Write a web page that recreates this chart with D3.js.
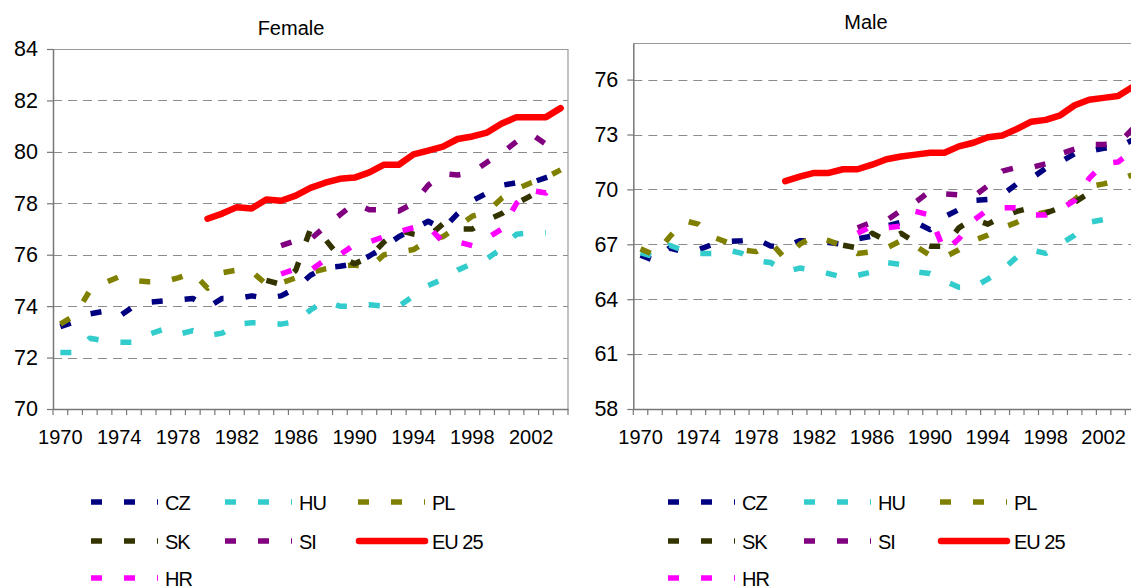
<!DOCTYPE html>
<html><head><meta charset="utf-8">
<script src="https://cdn.jsdelivr.net/npm/d3@7"></script>
<style>
html,body{margin:0;padding:0;background:#fff;}
svg{display:block;font-family:"Liberation Sans",Arial,sans-serif;}
</style></head>
<body>
<svg id="chart" width="1131" height="587"></svg>
<script>
const years = d3.range(1970, 2005);
const yearLabels = ["1970","1974","1978","1982","1986","1990","1994","1998","2002"];
const seriesNames = ["CZ","HU","PL","SK","SI","EU 25","HR"];
const seriesColors = ["#000080","#33CCCC","#808000","#333300","#800080","#FF0000","#FF00FF"];
const femaleTicks = [70,72,74,76,78,80,82,84];
const maleTicks = [58,61,64,67,70,73,76];
const _ = null;

// Female life expectancy (1970..2004)
const czF = [73.2,73.4,73.7,73.8,73.6,74.0,74.15,74.2,74.25,74.3,73.95,74.3,74.3,74.4,74.3,74.4,74.7,75.2,75.5,75.55,75.65,75.95,76.3,76.7,77.0,77.3,77.0,77.6,78.1,78.4,78.7,78.8,78.8,79.0,79.2];
const huF = [72.2,72.2,72.75,72.65,72.6,72.6,72.9,73.1,72.9,73.05,72.85,72.95,73.3,73.35,73.35,73.3,73.4,73.85,74.2,74.0,74.0,74.05,74.0,74.0,74.4,74.8,75.05,75.4,75.65,75.85,76.25,76.8,76.85,76.85,_];
const plF = [73.3,73.65,74.6,74.9,75.15,75.0,74.95,74.95,75.1,75.3,74.7,75.3,75.4,75.35,74.85,74.9,75.1,75.3,75.45,75.55,75.6,75.5,76.0,76.1,76.2,76.55,76.7,77.1,77.5,77.65,78.2,78.55,78.8,79.0,79.3];
const skF = [_,_,_,_,_,_,_,_,_,_,_,_,_,_,75.0,74.85,75.4,77.0,76.6,75.9,75.65,75.9,76.5,76.95,76.8,76.7,77.2,77.0,77.0,77.35,77.6,78.0,78.3,_,_];
const siF = [_,_,_,_,_,_,_,_,_,_,_,_,_,_,_,76.35,76.55,76.6,77.1,77.55,78.0,77.75,77.75,77.7,78.0,78.7,79.15,79.1,79.2,79.6,79.95,80.4,80.7,80.3,_];
const euF = [_,_,_,_,_,_,_,_,_,_,77.4,77.6,77.85,77.8,78.15,78.1,78.3,78.6,78.8,78.95,79.0,79.2,79.5,79.5,79.9,80.05,80.2,80.5,80.6,80.75,81.1,81.35,81.35,81.35,81.7];
const hrF = [_,_,_,_,_,_,_,_,_,_,_,_,_,_,_,75.25,75.45,75.4,75.8,76.0,76.4,76.5,76.7,76.9,77.05,77.1,76.5,76.5,76.35,76.65,77.0,78.0,78.5,78.4,79.0];

// Male life expectancy (1970..2004)
const czM = [66.4,66.1,66.8,66.6,66.7,67.0,67.15,67.2,67.3,66.9,66.85,67.2,67.2,67.1,67.0,67.3,67.45,68.0,68.2,68.2,67.8,68.5,68.9,69.4,69.45,69.7,70.3,70.6,71.15,71.5,71.95,72.1,72.25,72.3,72.7];
const huM = [66.55,66.3,66.95,66.65,66.5,66.5,66.7,66.5,66.1,66.0,65.5,65.7,65.6,65.4,65.2,65.3,65.5,66.0,65.9,65.5,65.4,65.0,64.65,64.65,65.1,65.6,66.3,66.7,66.5,67.0,67.5,68.2,68.35,68.4,_];
const plM = [66.75,66.4,67.4,68.3,68.1,67.4,67.1,66.7,66.6,67.1,66.2,67.0,67.45,67.2,66.9,66.5,66.6,66.8,67.2,66.9,66.4,66.3,66.7,67.2,67.5,67.9,68.2,68.6,68.75,68.95,69.45,70.15,70.3,70.5,70.8];
const skM = [_,_,_,_,_,_,_,_,_,_,_,_,_,_,66.95,66.8,67.6,67.2,67.6,67.1,66.9,66.9,67.9,68.4,68.1,68.5,68.8,69.0,68.7,69.0,69.3,69.8,_,_,_];
const siM = [_,_,_,_,_,_,_,_,_,_,_,_,_,_,_,67.9,68.2,68.3,68.85,69.3,69.9,69.75,69.7,69.6,70.2,71.0,71.2,71.2,71.4,71.95,72.2,72.45,72.45,72.5,73.3];
const euM = [_,_,_,_,_,_,_,_,_,_,70.45,70.7,70.9,70.9,71.1,71.1,71.35,71.65,71.8,71.9,72.0,72.0,72.35,72.55,72.85,72.95,73.3,73.7,73.8,74.05,74.6,74.9,75.0,75.1,75.6];
const hrM = [_,_,_,_,_,_,_,_,_,_,_,_,_,_,_,67.6,68.0,67.9,68.0,68.8,68.6,66.6,67.3,68.3,68.9,69.0,69.0,68.6,68.6,68.9,69.4,70.6,71.4,71.5,72.1];

const panels = [
  {title:"Female", series:[czF,huF,plF,skF,siF,euF,hrF], x0:53, x1:568, y0:49, y1:409,
   domain:[70,84], ticks:femaleTicks, titleX:291, titleY:35,
   legend:{x:[91,225,358], y:[502,541,578]}},
  {title:"Male", series:[czM,huM,plM,skM,siM,euM,hrM], x0:633.3, x1:1139.8, y0:43, y1:409,
   domain:[58,78], ticks:maleTicks, titleX:866, titleY:29,
   legend:{x:[668,804,940], y:[502,541,578]}}
];

const svg = d3.select("#chart");

panels.forEach(p => {
  const g = svg.append("g");
  const x = d3.scaleBand().domain(years.map(String)).range([p.x0, p.x1]).paddingInner(0).paddingOuter(0);
  const y = d3.scaleLinear().domain(p.domain).range([p.y1, p.y0]);

  g.selectAll("line.grid").data(p.ticks.filter(t => t > p.domain[0]))
    .enter().append("line")
    .attr("x1", p.x0).attr("x2", p.x1)
    .attr("y1", d => Math.round(y(d)) + 0.5).attr("y2", d => Math.round(y(d)) + 0.5)
    .attr("stroke", "#8c8c8c").attr("stroke-width", 1).attr("stroke-dasharray", "9,6");

  g.append("path")
    .attr("d", `M${p.x0},${p.y0 + 0.5}H${p.x1}V${p.y1}`)
    .attr("fill", "none").attr("stroke", "#999").attr("stroke-width", 1.2);

  const yAxis = d3.axisLeft(y).tickValues(p.ticks).tickSize(6).tickSizeOuter(0).tickFormat(d3.format("d"));
  const ya = g.append("g").attr("transform", `translate(${p.x0},0)`).call(yAxis);
  ya.select(".domain").attr("stroke", "#777").attr("stroke-width", 1.5);
  ya.selectAll(".tick line").attr("stroke", "#777").attr("stroke-width", 1.2);
  ya.selectAll(".tick text").attr("font-size", "21.5px").attr("fill", "#000").attr("x", -15)
    .attr("font-family", "Liberation Sans, Arial, sans-serif");

  const xAxis = d3.axisBottom(x).tickValues(yearLabels).tickSize(0).tickSizeOuter(0);
  const xa = g.append("g").attr("transform", `translate(0,${p.y1})`).call(xAxis);
  xa.select(".domain").attr("stroke", "#777").attr("stroke-width", 1.5);
  xa.selectAll(".tick text").attr("font-size", "20px").attr("fill", "#000").attr("y", 21)
    .attr("font-family", "Liberation Sans, Arial, sans-serif");
  const bounds = years.map(d => x(String(d))).concat([x(String(years[years.length - 1])) + x.bandwidth()]);
  g.selectAll("line.xtick").data(bounds).enter().append("line")
    .attr("x1", d => d).attr("x2", d => d)
    .attr("y1", p.y1).attr("y2", p.y1 + 6)
    .attr("stroke", "#777").attr("stroke-width", 1.2);

  const line = d3.line()
    .defined(d => d.v != null)
    .x(d => x(String(d.year)) + x.bandwidth() / 2)
    .y(d => y(d.v));
  p.series.forEach((vals, i) => {
    const data = years.map((yr, j) => ({year: yr, v: vals[j]}));
    const isEU = seriesNames[i] === "EU 25";
    g.append("path").datum(data)
      .attr("d", line)
      .attr("fill", "none")
      .attr("stroke", seriesColors[i])
      .attr("stroke-width", isEU ? 6.5 : 5.5)
      .attr("stroke-linejoin", "round")
      .attr("stroke-linecap", isEU ? "round" : "butt")
      .attr("stroke-dasharray", isEU ? null : "11,22");
  });

  g.append("text").attr("x", p.titleX).attr("y", p.titleY)
    .attr("text-anchor", "middle").attr("font-size", "20px").attr("fill", "#000")
    .text(p.title);

  seriesNames.forEach((name, k) => {
    const col = k % 3, row = Math.floor(k / 3);
    const lx = p.legend.x[col], ly = p.legend.y[row];
    const isEU = name === "EU 25";
    g.append("line")
      .attr("x1", isEU ? lx + 1 : lx).attr("x2", lx + 67)
      .attr("y1", ly).attr("y2", ly)
      .attr("stroke", seriesColors[k])
      .attr("stroke-width", isEU ? 6.5 : 5.5)
      .attr("stroke-linecap", isEU ? "round" : "butt")
      .attr("stroke-dasharray", isEU ? null : "11,22");
    g.append("text")
      .attr("x", lx + 74).attr("y", ly + 8)
      .attr("font-size", "20px").attr("letter-spacing", "-1px").attr("fill", "#000")
      .text(name);
  });
});
</script>
</body></html>
